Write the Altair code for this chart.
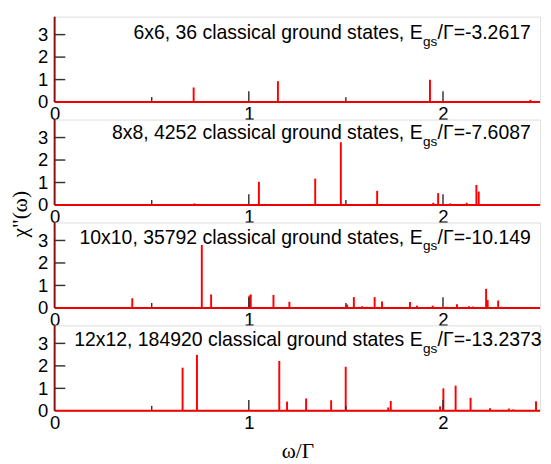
import altair as alt
import pandas as pd

# ---- data ----
titles_main = ["6x6, 36 classical ground states, E",
               "8x8, 4252 classical ground states, E",
               "10x10, 35792 classical ground states, E",
               "12x12, 184920 classical ground states E"]
titles_tail = ["/\u0393=-3.2617", "/\u0393=-7.6087", "/\u0393=-10.149", "/\u0393=-13.2373"]
title_y = [2.80, 2.92, 2.86, 2.88]

omega_6 = [0.716, 1.150, 1.691, 1.933, 2.45]
chi_6 = [0.65, 0.93, 0.03, 0.99, 0.10]

omega_8 = [0.72, 0.83, 1.052, 1.342, 1.474, 1.56, 1.661, 1.95, 1.975, 2.037, 2.122, 2.172, 2.184, 2.34]
chi_8 = [0.07, 0.03, 1.03, 1.17, 2.79, 0.02, 0.63, 0.10, 0.53, 0.07, 0.10, 0.89, 0.60, 0.03]

omega_10 = [0.40, 0.758, 0.806, 1.003, 1.01, 1.127, 1.209, 1.507, 1.541, 1.583, 1.608, 1.648, 1.686,
            1.83, 1.866, 1.947, 2.017, 2.072, 2.134, 2.155, 2.222, 2.23, 2.284, 2.30, 2.372]
chi_10 = [0.43, 2.80, 0.60, 0.55, 0.60, 0.58, 0.27, 0.15, 0.48, 0.07, 0.05, 0.48, 0.29,
          0.26, 0.10, 0.10, 0.05, 0.16, 0.07, 0.06, 0.85, 0.35, 0.33, 0.05, 0.04]

omega_12 = [0.659, 0.733, 1.157, 1.197, 1.295, 1.424, 1.499, 1.718, 1.731, 1.985, 2.002, 2.065,
            2.142, 2.242, 2.339, 2.362, 2.479]
chi_12 = [1.92, 2.49, 2.22, 0.41, 0.55, 0.47, 1.96, 0.15, 0.44, 0.20, 1.00, 1.12,
          0.58, 0.12, 0.10, 0.06, 0.43]

omegas = [omega_6, omega_8, omega_10, omega_12]
chis = [chi_6, chi_8, chi_10, chi_12]

x_tick_pos = [0.5, 1.0, 1.5, 2.0]
x_tick_len = [0.22, 0.48, 0.22, 0.48]
y_tick_pos = [1, 2, 3]
x_label_values = [0, 1, 2]
y_label_values = [0, 1, 2, 3]

XMAX = 2.5
YMAX = 3.8
W, H = 500, 88

xs = alt.Scale(domain=[0, XMAX], nice=False, zero=False)
ys = alt.Scale(domain=[0, YMAX], nice=False)

sans = "Liberation Sans"
serif = "Liberation Serif"


def panel(i):
    df = pd.DataFrame({"omega": omegas[i], "chi": chis[i], "base": 0.0})
    one = pd.DataFrame({"k": [0]})
    last = i == 3
    xaxis = alt.Axis(values=x_label_values, format="d", ticks=False, domain=False, grid=False,
                     labelFontSize=19, labelFont=sans, labelFontWeight="normal", labelPadding=3,
                     labelColor="black", labelFlush=False, labelOverlap=False,
                     title="\u03c9/\u0393" if last else "",
                     titleFont=serif, titleFontSize=22, titleFontWeight="normal",
                     titlePadding=9, titleColor="black")
    common_y = dict(values=y_label_values, format="d", ticks=False, domain=False, grid=False,
                    labelFontSize=19, labelFont=sans, labelFontWeight="normal", labelPadding=7,
                    labelColor="black", labelOverlap=False, labelFlush=False, labelBound=False)
    if i == 1:
        yaxis = alt.Axis(**common_y,
                         title='\u03c7"(\u03c9)', titleFont=serif, titleFontSize=22,
                         titleFontWeight="normal", titleAngle=270, titleX=-36, titleY=97,
                         titleAlign="center", titleBaseline="middle", titleColor="black")
    else:
        yaxis = alt.Axis(**common_y, title="")

    spikes = alt.Chart(df).mark_rule(color="#ff0000", strokeWidth=2).encode(
        x=alt.X("omega:Q", scale=xs, axis=xaxis),
        y=alt.Y("base:Q", scale=ys, axis=yaxis),
        y2="chi:Q",
    )
    xt = pd.DataFrame({"x": x_tick_pos, "len": x_tick_len, "base": 0.0})
    xticks = alt.Chart(xt).mark_rule(color="#333333", strokeWidth=1.5).encode(
        x=alt.X("x:Q", scale=xs, axis=xaxis), y=alt.Y("base:Q", scale=ys, axis=yaxis), y2="len:Q")
    yt = pd.DataFrame({"y": y_tick_pos, "x0": 0.0, "x1": 0.055})
    yticks = alt.Chart(yt).mark_rule(color="#333333", strokeWidth=1.5).encode(
        y=alt.Y("y:Q", scale=ys, axis=yaxis), x=alt.X("x0:Q", scale=xs, axis=xaxis), x2="x1:Q")
    base_line = alt.Chart(one).mark_rule(color="#ee0000", strokeWidth=2).encode(
        x=alt.X(datum=0, scale=xs, axis=xaxis), x2=alt.datum(XMAX),
        y=alt.Y(datum=0, scale=ys, axis=yaxis))
    left_line = alt.Chart(one).mark_rule(color="#8b1010", strokeWidth=2).encode(
        x=alt.X(datum=0, scale=xs, axis=xaxis), y=alt.Y(datum=0, scale=ys, axis=yaxis),
        y2=alt.datum(YMAX))

    ty = title_y[i]
    t1 = alt.Chart(one).mark_text(align="right", baseline="alphabetic", font=sans,
                                  fontSize=20, fontWeight=400, color="black").encode(
        x=alt.X(datum=1.895, scale=xs, axis=xaxis), y=alt.Y(datum=ty, scale=ys, axis=yaxis),
        text=alt.value(titles_main[i]))
    t2 = alt.Chart(one).mark_text(align="left", baseline="alphabetic", font=sans,
                                  fontSize=14, fontWeight=400, color="black").encode(
        x=alt.X(datum=1.897, scale=xs, axis=xaxis), y=alt.Y(datum=ty - 0.3, scale=ys, axis=yaxis),
        text=alt.value("gs"))
    t3 = alt.Chart(one).mark_text(align="left", baseline="alphabetic", font=sans,
                                  fontSize=20, fontWeight=400, color="black").encode(
        x=alt.X(datum=1.972, scale=xs, axis=xaxis), y=alt.Y(datum=ty, scale=ys, axis=yaxis),
        text=alt.value(titles_tail[i]))

    return alt.layer(spikes, xticks, yticks, base_line, left_line, t1, t2, t3).properties(
        width=W, height=H)


chart = alt.vconcat(*[panel(i) for i in range(4)], spacing=18, bounds="flush").properties(
    padding={"top": 0, "left": 0, "right": 0, "bottom": 0}
).configure_view(stroke="black", strokeWidth=1.5, fill="white").configure(background="white")

chart.save("out.html", embed_options={"renderer": "svg", "actions": False})
